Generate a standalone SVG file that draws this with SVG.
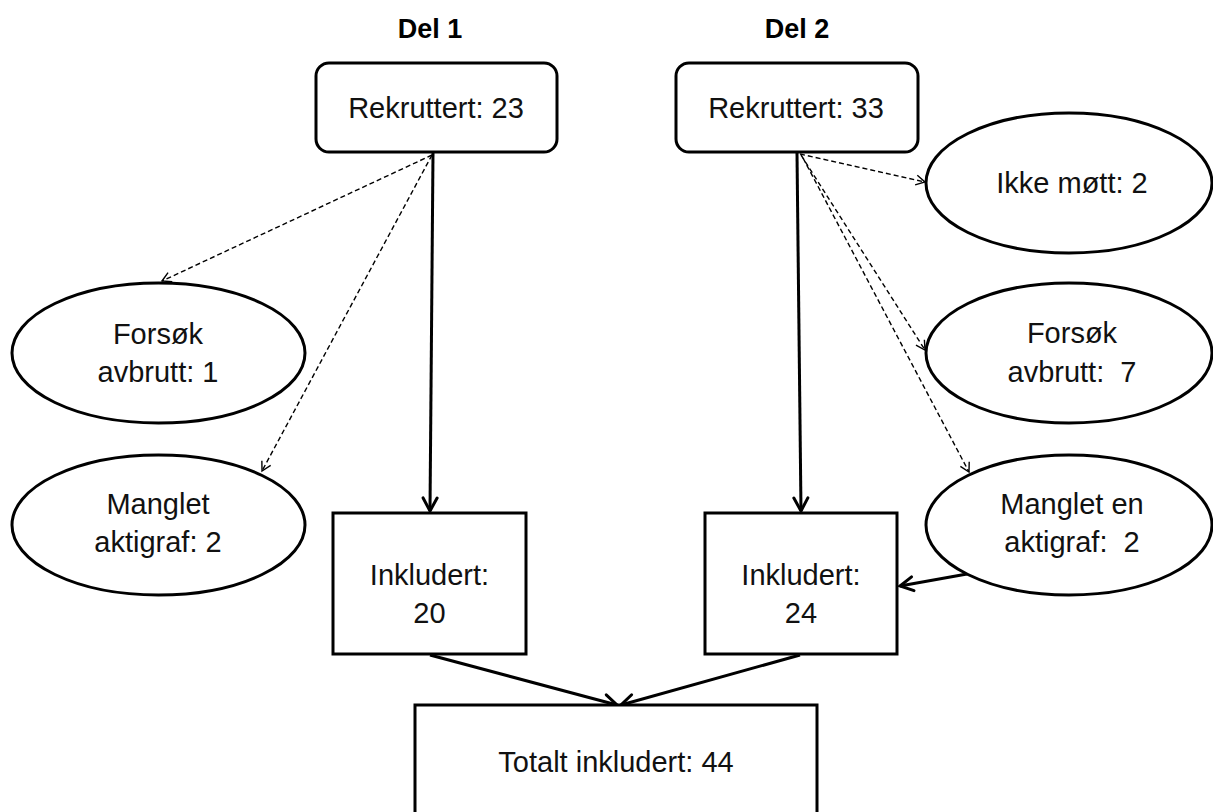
<svg xmlns="http://www.w3.org/2000/svg" width="1213" height="812" viewBox="0 0 1213 812">
<style>
  .box{fill:#fff;stroke:#000;stroke-width:3}
  .t{font-family:"Liberation Sans",Arial,sans-serif;font-size:29px;fill:#111;text-anchor:middle;white-space:pre}
  .h{font-family:"Liberation Sans",Arial,sans-serif;font-size:27px;font-weight:bold;fill:#000;text-anchor:middle}
  .solid{stroke:#000;stroke-width:3;fill:none;marker-end:url(#ah)}
  .dash{stroke:#000;stroke-width:1.4;fill:none;stroke-dasharray:5 3;marker-end:url(#ahd)}
</style>
<defs>
  <marker id="ah" markerUnits="userSpaceOnUse" orient="auto" markerWidth="30" markerHeight="30" refX="0" refY="0" viewBox="-15 -15 30 30" overflow="visible">
    <path d="M-13,-7 L0,0 L-13,7" fill="none" stroke="#000" stroke-width="3" stroke-linecap="round" stroke-linejoin="miter"/>
  </marker>
  <marker id="ahd" markerUnits="userSpaceOnUse" orient="auto" markerWidth="20" markerHeight="20" refX="0" refY="0" viewBox="-10 -10 20 20" overflow="visible">
    <path d="M-9,-5 L0,0 L-9,5" fill="none" stroke="#000" stroke-width="1.4"/>
  </marker>
</defs>
<rect width="1213" height="812" fill="#fff"/>

<g id="connectors">
  <line class="solid" x1="433" y1="153" x2="430" y2="511"/>
  <line class="solid" x1="797" y1="153" x2="801" y2="511"/>
  <line class="solid" x1="430" y1="655" x2="617" y2="705"/>
  <line class="solid" x1="800" y1="655" x2="621" y2="705"/>
  <line class="solid" x1="967" y1="574" x2="900" y2="586"/>
  <line class="dash" x1="432" y1="155" x2="162" y2="281"/>
  <line class="dash" x1="432" y1="155" x2="262" y2="471"/>
  <line class="dash" x1="800" y1="154" x2="925" y2="182"/>
  <line class="dash" x1="801" y1="155" x2="925" y2="350"/>
  <line class="dash" x1="803" y1="158" x2="969" y2="472"/>
</g>

<g id="del1-title"><text class="h" x="430" y="38">Del 1</text></g>
<g id="del2-title"><text class="h" x="797" y="38">Del 2</text></g>

<g id="rekruttert1">
  <rect class="box" x="316" y="63" width="241" height="89" rx="13"/>
  <text class="t" x="436" y="118">Rekruttert: 23</text>
</g>
<g id="rekruttert2">
  <rect class="box" x="676" y="63" width="242" height="89" rx="13"/>
  <text class="t" x="796" y="118">Rekruttert: 33</text>
</g>

<g id="forsok1">
  <ellipse class="box" cx="158.5" cy="353" rx="146.5" ry="70"/>
  <text class="t" x="158" y="344">Forsøk</text>
  <text class="t" x="158" y="382">avbrutt: 1</text>
</g>
<g id="manglet1">
  <ellipse class="box" cx="158.5" cy="525" rx="146.5" ry="70"/>
  <text class="t" x="158" y="514">Manglet</text>
  <text class="t" x="158" y="552">aktigraf: 2</text>
</g>

<g id="ikkemott">
  <ellipse class="box" cx="1069" cy="183" rx="143" ry="70"/>
  <text class="t" x="1072" y="193">Ikke møtt: 2</text>
</g>
<g id="forsok2">
  <ellipse class="box" cx="1069" cy="353" rx="143" ry="70"/>
  <text class="t" x="1072" y="343">Forsøk</text>
  <text class="t" x="1072" y="382">avbrutt:  7</text>
</g>
<g id="manglet2">
  <ellipse class="box" cx="1069" cy="525" rx="143" ry="70"/>
  <text class="t" x="1072" y="514">Manglet en</text>
  <text class="t" x="1072" y="552">aktigraf:  2</text>
</g>

<g id="inkludert1">
  <rect class="box" x="333" y="513" width="193" height="141"/>
  <text class="t" x="429.5" y="585">Inkludert:</text>
  <text class="t" x="429.5" y="623">20</text>
</g>
<g id="inkludert2">
  <rect class="box" x="705" y="513" width="192" height="141"/>
  <text class="t" x="801" y="585">Inkludert:</text>
  <text class="t" x="801" y="623">24</text>
</g>

<g id="totalt">
  <rect class="box" x="415" y="705" width="402" height="115"/>
  <text class="t" x="616" y="772">Totalt inkludert: 44</text>
</g>
</svg>
